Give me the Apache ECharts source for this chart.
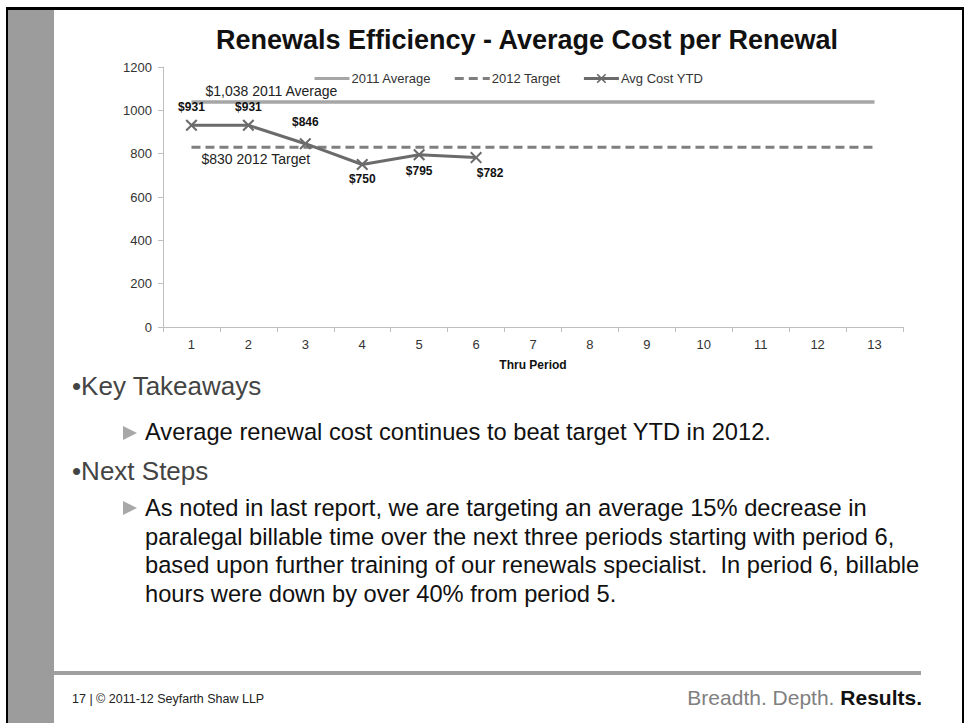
<!DOCTYPE html>
<html>
<head>
<meta charset="utf-8">
<script src="https://cdn.jsdelivr.net/npm/echarts@6/dist/echarts.min.js"></script>
<style>
  body { margin: 0; background: #fff; font-family: Arial, "Liberation Sans", sans-serif; }
  #frame {
    position: absolute; left: 6px; top: 7px; width: 954px; height: 730px;
    border-left: 2px solid #000; border-top: 3px solid #000; border-right: 2px solid #000;
  }
  #sidebar { position: absolute; left: 8px; top: 10px; width: 46px; height: 713px; background: #9c9c9c; }
  #chart { position: absolute; left: 0; top: 0; width: 966px; height: 723px; }
  .txt { position: absolute; white-space: nowrap; }
  .head { font-size: 26px; color: #444; left: 72px; }
  .body { font-size: 23.7px; color: #111; left: 145px; line-height: 28.5px; }
  .tri { position: absolute; left: 123px; width: 0; height: 0;
    border-top: 7px solid transparent; border-bottom: 7px solid transparent; border-left: 14px solid #a8a8a8; }
  #rule { position: absolute; left: 54px; top: 671px; width: 867px; height: 4px; background: #a0a0a0; }
</style>
</head>
<body>
<div id="frame"></div>
<div id="sidebar"></div>
<div id="chart"></div>

<div class="txt head" style="top:371px">•Key Takeaways</div>
<div class="tri" style="top:426px"></div>
<div class="txt body" style="top:418px">Average renewal cost continues to beat target YTD in 2012.</div>
<div class="txt head" style="top:456px">•Next Steps</div>
<div class="tri" style="top:501px"></div>
<div class="txt body" style="top:494px">As noted in last report, we are targeting an average 15% decrease in<br>paralegal billable time over the next three periods starting with period 6,<br>based upon further training of our renewals specialist.&nbsp; In period 6, billable<br>hours were down by over 40% from period 5.</div>

<div id="rule"></div>
<div class="txt" style="left:72px; top:692px; font-size:12.5px; color:#222">17 | © 2011-12 Seyfarth Shaw LLP</div>
<div class="txt" style="right:44px; top:686px; font-size:21px; color:#808080">Breadth. Depth. <b style="color:#111">Results.</b></div>

<script>
const periods = ['1', '2', '3', '4', '5', '6', '7', '8', '9', '10', '11', '12', '13'];
const avgCostYTD = [931, 931, 846, 750, 795, 782];
const avg2011 = [1038, 1038, 1038, 1038, 1038, 1038, 1038, 1038, 1038, 1038, 1038, 1038, 1038];
const target2012 = [830, 830, 830, 830, 830, 830, 830, 830, 830, 830, 830, 830, 830];

// where each YTD label sits relative to its point
const costLabelPlace = [
  { position: 'top', distance: 6 },
  { position: 'top', distance: 6 },
  { position: 'top', distance: 10 },
  { position: 'bottom', distance: 2 },
  { position: 'bottom', distance: 4 },
  { position: 'bottom', distance: 3, offset: [14, 0] },
];

const font = 'Arial, "Liberation Sans", sans-serif';
const chart = echarts.init(document.getElementById('chart'), null, { renderer: 'svg' });

const money = (v) => '$' + v.toLocaleString('en-US');

// note text next to the first point of a flat reference line
function firstPointNote(values, suffix, label) {
  return {
    silent: true,
    symbol: 'circle',
    symbolSize: 0,
    data: [{ coord: [0, values[0]], value: values[0] }],
    label: Object.assign({
      show: true, align: 'left', fontSize: 14, color: '#222', fontFamily: font,
      formatter: (p) => money(p.value) + suffix,
    }, label),
  };
}

// legend entry showing only the line, no marker
const lineOnly = (name) => ({ name, itemStyle: { opacity: 0, color: 'rgba(0,0,0,0)', borderWidth: 0 } });

chart.setOption({
  animation: false,
  textStyle: { fontFamily: font },
  title: {
    text: 'Renewals Efficiency - Average Cost per Renewal',
    left: 522, top: 21, textAlign: 'center',
    textStyle: { fontSize: 27, fontWeight: 'bold', color: '#111', fontFamily: font },
  },
  legend: {
    left: 308, top: 67,
    itemWidth: 35, itemHeight: 12, itemGap: 22,
    lineStyle: { width: 3 },
    textStyle: { fontSize: 13, color: '#333', padding: [0, 0, 0, -3] },
    data: [lineOnly('2011 Average'), lineOnly('2012 Target'), 'Avg Cost YTD'],
  },
  grid: { left: 163, right: 63, top: 67, bottom: 396 },
  xAxis: {
    type: 'category',
    data: periods,
    name: 'Thru Period',
    nameLocation: 'middle',
    nameGap: 32,
    nameTextStyle: { fontSize: 12, fontWeight: 'bold', color: '#111' },
    axisLine: { lineStyle: { color: '#bfbfbf', width: 1 } },
    axisTick: { show: true, length: 5, alignWithLabel: false, lineStyle: { color: '#bfbfbf' } },
    axisLabel: { fontSize: 13, color: '#333', margin: 11 },
  },
  yAxis: {
    type: 'value',
    min: 0, max: 1200, interval: 200,
    axisLine: { show: true, lineStyle: { color: '#bfbfbf', width: 1 } },
    axisTick: { show: true, length: 5, lineStyle: { color: '#bfbfbf' } },
    axisLabel: { fontSize: 13, color: '#333', margin: 11, formatter: (v) => String(v) },
    splitLine: { show: false },
  },
  series: [
    {
      name: '2011 Average',
      type: 'line',
      symbol: 'none',
      data: avg2011,
      lineStyle: { color: '#a6a6a6', width: 3.5 },
      itemStyle: { color: '#a6a6a6' },
      markPoint: firstPointNote(avg2011, ' 2011 Average', { position: 'top', offset: [14, 0], distance: 4 }),
      z: 2,
    },
    {
      name: '2012 Target',
      type: 'line',
      symbol: 'none',
      data: target2012,
      lineStyle: { color: '#7f7f7f', width: 3, type: [9, 5] },
      itemStyle: { color: '#7f7f7f' },
      markPoint: firstPointNote(target2012, ' 2012 Target', { position: 'bottom', offset: [10, 0], distance: 5 }),
      z: 3,
    },
    {
      name: 'Avg Cost YTD',
      type: 'line',
      symbol: 'path://M0,1.2L1.2,0L5,3.8L8.8,0L10,1.2L6.2,5L10,8.8L8.8,10L5,6.2L1.2,10L0,8.8L3.8,5Z',
      symbolSize: 12,
      data: avgCostYTD.map((v, i) => ({
        value: v,
        label: Object.assign({
          show: true, fontSize: 12, fontWeight: 'bold', color: '#111',
          formatter: (p) => money(p.value),
        }, costLabelPlace[i]),
      })),
      lineStyle: { color: '#6b6b6b', width: 3 },
      itemStyle: { color: '#6b6b6b' },
      z: 4,
    },
  ],
});
</script>
</body>
</html>
